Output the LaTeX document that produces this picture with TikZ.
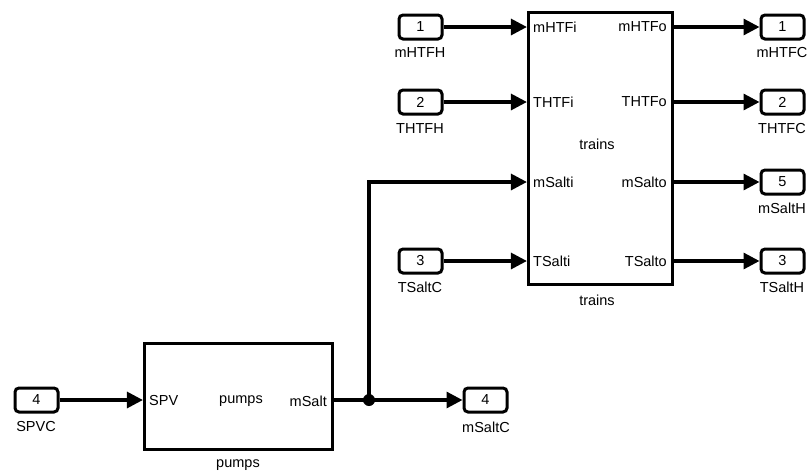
\documentclass[tikz,border=0pt]{standalone}
\usepackage{fontspec}
\setmainfont{Liberation Sans}
\usetikzlibrary{arrows.meta}
\begin{document}
\begin{tikzpicture}[x=1pt,y=-1pt,
  txt/.style={font=\fontsize{14.5}{16}\selectfont, inner sep=0pt},
  port/.style={draw, rounded corners=4pt, line width=3pt, minimum width=43pt, minimum height=24pt, inner sep=0pt, font=\fontsize{14.5}{16}\selectfont},
  block/.style={draw, line width=3.2pt, inner sep=0pt},
  wire/.style={line width=3.2pt, -{Triangle[length=16pt,width=16pt]}},
  line/.style={line width=3.2pt}]
\useasboundingbox (0,0) rectangle (807,475);
% trains block
\node[block, minimum width=144pt, minimum height=272pt] (tr) at (600.5,148.5) {};
\node[txt] (trname) at (597,144) {trains};
\node[txt] (trlab) at (597,300) {trains};
\node[txt, anchor=west] (pi1) at (533,27) {mHTFi};
\node[txt, anchor=west] (pi2) at (533,102) {THTFi};
\node[txt, anchor=west] (pi3) at (533,182) {mSalti};
\node[txt, anchor=west] (pi4) at (533,261) {TSalti};
\node[txt, anchor=east] (po1) at (667,27) {mHTFo};
\node[txt, anchor=east] (po2) at (667,102) {THTFo};
\node[txt, anchor=east] (po3) at (667,182) {mSalto};
\node[txt, anchor=east] (po4) at (667,261) {TSalto};
% inports of trains
\node[port] (in1) at (420.5,27) {1};
\node[txt] (in1l) at (420,53) {mHTFH};
\node[port] (in2) at (420.5,102) {2};
\node[txt] (in2l) at (420,129) {THTFH};
\node[port] (in3) at (420.5,261) {3};
\node[txt] (in3l) at (420,287) {TSaltC};
% outports of trains
\node[port] (out1) at (782.5,27) {1};
\node[txt] (out1l) at (782,53) {mHTFC};
\node[port] (out2) at (782.5,102) {2};
\node[txt] (out2l) at (782,129) {THTFC};
\node[port] (out5) at (782.5,182) {5};
\node[txt] (out5l) at (782,208) {mSaltH};
\node[port] (out3) at (782.5,261) {3};
\node[txt] (out3l) at (782,287) {TSaltH};
% pumps block
\node[block, minimum width=188pt, minimum height=106pt] (pu) at (238.5,396.5) {};
\node[txt] (puname) at (241,401) {pumps};
\node[txt] (pulab) at (238,465) {pumps};
\node[txt, anchor=west] (pspv) at (149,401) {SPV};
\node[txt, anchor=east] (pms) at (327,401) {mSalt};
\node[port] (in4) at (36.5,400) {4};
\node[txt] (in4l) at (36,427) {SPVC};
\node[port] (out4) at (485.5,400) {4};
\node[txt] (out4l) at (486,427) {mSaltC};
\coordinate (jn) at (369,400);
\coordinate (bend) at (369,182);
% wires
\draw[wire] (in1.east) -- (tr.west |- in1);
\draw[wire] (in2.east) -- (tr.west |- in2);
\draw[wire] (in3.east) -- (tr.west |- in3);
\draw[wire] (tr.east |- out1) -- (out1.west);
\draw[wire] (tr.east |- out2) -- (out2.west);
\draw[wire] (tr.east |- out5) -- (out5.west);
\draw[wire] (tr.east |- out3) -- (out3.west);
\draw[wire] (in4.east) -- (pu.west |- in4);
\draw[line] (pu.east |- out4) -- (jn);
\draw[wire] (jn) -- (out4.west);
\draw[wire] (jn) -- (bend) -- (tr.west |- bend);
\fill (jn) circle (6pt);
\end{tikzpicture}
\end{document}
